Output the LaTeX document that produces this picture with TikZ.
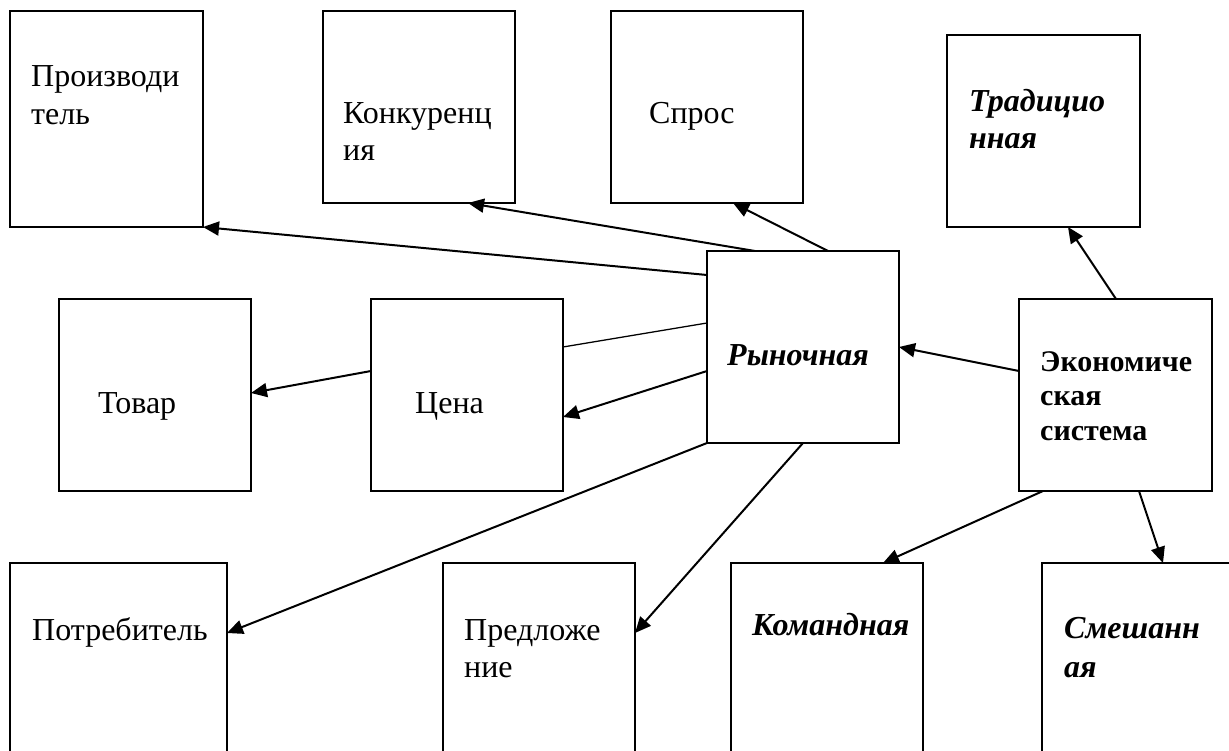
\documentclass[tikz,border=0pt]{standalone}
\usepackage{fontspec}
\setmainfont{Liberation Serif}
\usetikzlibrary{arrows.meta}
\begin{document}
\begin{tikzpicture}[x=1pt,y=-1pt,
  box/.style={draw, line width=1.3pt, inner sep=0pt, outer sep=0pt, anchor=north west, minimum width=192pt, minimum height=192pt},
  tall/.style={box, minimum height=216pt},
  lbl/.style={anchor=base west, inner sep=0pt, font=\fontsize{32}{37}\selectfont},
  lblbi/.style={lbl, font=\fontsize{32}{37}\selectfont\bfseries\itshape},
  lblb/.style={lbl, font=\fontsize{30}{36}\selectfont\bfseries},
  arr/.style={line width=2pt, -{Triangle[length=16pt,width=14pt]}},
  plain/.style={line width=1.3pt}]
\useasboundingbox (0,0) rectangle (1229,751);
\clip (0,0) rectangle (1229,751);
% boxes
\node[tall, minimum width=193pt] (proiz) at (10,11) {};
\node[box] (konk) at (323,11) {};
\node[box] (spros) at (611,11) {};
\node[box, minimum width=193pt] (trad) at (947,35) {};
\node[box] (ryn) at (707,251) {};
\node[box, minimum width=193pt] (econ) at (1019,299) {};
\node[box] (tovar) at (59,299) {};
\node[box] (cena) at (371,299) {};
\node[tall, minimum width=217pt] (potr) at (10,563) {};
\node[tall] (pred) at (443,563) {};
\node[tall] (koman) at (731,563) {};
\node[tall] (smesh) at (1042,563) {};
% labels
\node[lbl] (proizA) at (31,87) {Производи};
\node[lbl] (proizB) at (31,125) {тель};
\node[lbl] (konkA) at (343,124) {Конкуренц};
\node[lbl] (konkB) at (343,161) {ия};
\node[lbl] (sprosA) at (649,124) {Спрос};
\node[lblbi] (tradA) at (969,112) {Традицио};
\node[lblbi] (tradB) at (969,149) {нная};
\node[lblbi] (rynA) at (727,365) {Рыночная};
\node[lblb] (econA) at (1040,371) {Экономиче};
\node[lblb] (econB) at (1040,405) {ская};
\node[lblb] (econC) at (1040,440) {система};
\node[lbl] (tovarA) at (98,413) {Товар};
\node[lbl] (cenaA) at (415,413) {Цена};
\node[lbl] (potrA) at (32,640) {Потребитель};
\node[lbl] (predA) at (464,640) {Предложе};
\node[lbl] (predB) at (464,677) {ние};
\node[lblbi] (komanA) at (752,635) {Командная};
\node[lblbi] (smeshA) at (1064,638) {Смешанн};
\node[lblbi] (smeshB) at (1064,677) {ая};
% connectors
\draw[arr] ([yshift=-24pt]ryn.north west) -- (proiz.south east);
\draw[arr] ([xshift=48pt]ryn.north west) -- ([xshift=145pt]konk.south west);
\draw[arr] ([xshift=121pt]ryn.north west) -- ([xshift=122pt]spros.south west);
\draw[plain] ([yshift=-48pt]cena.north east) -- ([yshift=-72pt]ryn.north west);
\draw[arr] ([yshift=-120pt]ryn.north west) -- ([yshift=-118pt]cena.north east);
\draw[arr] ([yshift=-72pt]cena.north west) -- ([yshift=-94pt]tovar.north east);
\draw[arr] (ryn.south west) -- ([yshift=-70pt]potr.north east);
\draw[arr] ([xshift=96pt]ryn.south west) -- ([yshift=-70pt]pred.north east);
\draw[arr] ([yshift=-72pt]econ.north west) -- ([yshift=-96pt]ryn.north east);
\draw[arr] ([xshift=97pt]econ.north west) -- ([xshift=121pt]trad.south west);
\draw[arr] ([xshift=24pt]econ.south west) -- ([xshift=152pt]koman.north west);
\draw[arr] ([xshift=120pt]econ.south west) -- ([xshift=121pt]smesh.north west);
\end{tikzpicture}
\end{document}
